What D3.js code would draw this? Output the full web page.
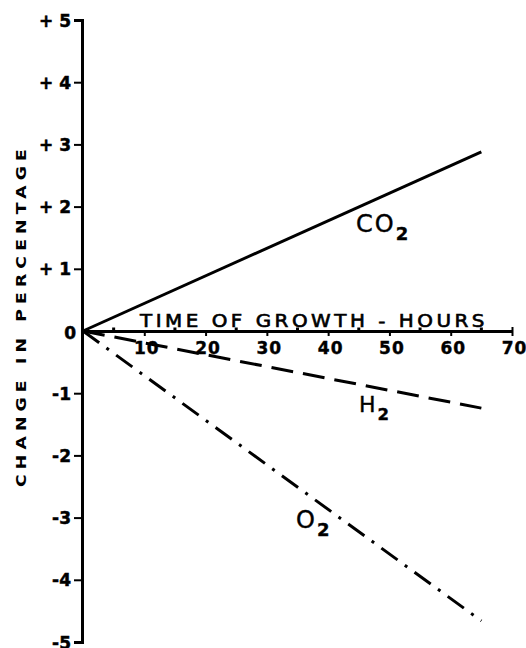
<!DOCTYPE html>
<html>
<head>
<meta charset="utf-8">
<script src="https://cdn.jsdelivr.net/npm/d3@7"></script>
<style>
  html, body { margin: 0; padding: 0; background: #fff; }
  svg { display: block; }
</style>
</head>
<body>
<div id="chart"></div>
<script>
// ---- data ----
const hours = [0, 65];
const co2 = [0, 2.88];
const h2 = [0, -1.24];
const o2 = [0, -4.66];
const xTicks = [10, 20, 30, 40, 50, 60, 70];
const xMinorTicks = [5, 15, 25, 35, 45, 55, 65];
const yTicks = [5, 4, 3, 2, 1, 0, -1, -2, -3, -4, -5];
const yTickLabels = ["+ 5", "+ 4", "+ 3", "+ 2", "+ 1", "0", "-1", "-2", "-3", "-4", "-5"];
const xTitle = "TIME OF GROWTH - HOURS";
const yTitle = "CHANGE IN PERCENTAGE";

const W = 526, H = 648;
const svg = d3.select("#chart").append("svg").attr("width", W).attr("height", H);
svg.append("rect").attr("width", W).attr("height", H).attr("fill", "#fff");

const x = d3.scaleLinear().domain([0, 70]).range([83, 512]);
const y = d3.scaleLinear().domain([-5, 5]).range([642, 20]);

const ink = "#000";
const tickFont = "'DejaVu Sans', sans-serif";

// ---- Y axis ----
const yAxis = d3.axisLeft(y)
  .tickValues(yTicks)
  .tickSize(8)
  .tickSizeOuter(8)
  .tickPadding(3)
  .tickFormat((d, i) => yTickLabels[i]);
const gy = svg.append("g").attr("transform", `translate(${x(0) - 1},0)`).call(yAxis);
gy.select(".domain").attr("stroke", ink).attr("stroke-width", 3);
gy.selectAll(".tick line").attr("stroke", ink).attr("stroke-width", 2);
gy.selectAll(".tick text")
  .attr("fill", ink)
  .attr("stroke", ink).attr("stroke-width", 0.5)
  .style("font-family", tickFont)
  .style("font-weight", "bold")
  .style("font-size", "17px")
  .style("white-space", "pre")
  .attr("dy", "0.36em");
gy.selectAll(".tick").filter(d => d === 0).select("line").remove();
gy.selectAll(".tick").filter(d => d === 0).select("text").attr("x", -6).attr("dy", "0.45em");

// ---- X axis ----
const xAxis = d3.axisBottom(x)
  .tickValues(xTicks)
  .tickSize(5)
  .tickSizeOuter(0)
  .tickPadding(6)
  .tickFormat(d3.format("d"));
const gx = svg.append("g").attr("transform", `translate(0,${y(0)})`).call(xAxis);
gx.select(".domain").attr("stroke", ink).attr("stroke-width", 3);
gx.selectAll(".tick line").attr("stroke", ink).attr("stroke-width", 2);
gx.selectAll(".tick text")
  .attr("fill", ink)
  .attr("stroke", ink).attr("stroke-width", 0.4)
  .style("font-family", tickFont)
  .style("font-weight", "bold")
  .style("font-size", "17px")
  .style("letter-spacing", "1px")
  .attr("dx", "2");
gx.selectAll(".tick").filter(d => d === 70).select("line").attr("y1", -4);
gx.selectAll(".minor").data(xMinorTicks).enter().append("line")
  .attr("class", "minor")
  .attr("x1", d => x(d)).attr("x2", d => x(d))
  .attr("y1", -3.5).attr("y2", 1)
  .attr("stroke", ink).attr("stroke-width", 3);

// ---- titles ----
svg.append("text")
  .attr("x", 140).attr("y", 327)
  .attr("textLength", 348).attr("lengthAdjust", "spacingAndGlyphs")
  .style("font-family", tickFont).style("font-size", "17px")
  .style("letter-spacing", "3px")
  .attr("stroke", ink).attr("stroke-width", 0.6)
  .attr("fill", ink)
  .text(xTitle);

svg.append("text")
  .attr("transform", "translate(25.5,487) rotate(-90)")
  .attr("textLength", 343).attr("lengthAdjust", "spacingAndGlyphs")
  .style("font-family", tickFont).style("font-size", "13.5px").style("font-weight", "bold")
  .style("letter-spacing", "4px")
  .attr("fill", ink)
  .text(yTitle);

// ---- series ----
const line = d3.line().x((d, i) => x(hours[i])).y(d => y(d));
const plot = svg.append("g").attr("fill", "none").attr("stroke", ink).attr("stroke-width", 3);
plot.append("path").datum(co2).attr("d", line);
plot.append("path").datum(h2).attr("d", line).attr("stroke-dasharray", "22,10");
plot.append("path").datum(o2).attr("d", line).attr("stroke-dasharray", "20,9,3,9");

// ---- series labels ----
function gasLabel(xp, yp, base, size) {
  const t = svg.append("text").attr("x", xp).attr("y", yp)
    .style("font-family", tickFont).style("font-size", size + "px")
    .style("letter-spacing", "2px")
    .attr("stroke", ink).attr("stroke-width", 0.4)
    .attr("fill", ink);
  t.append("tspan").text(base);
  t.append("tspan").attr("dy", size * 0.35).style("font-size", (size * 0.75) + "px").style("font-weight", "bold").text("2");
}
gasLabel(356, 232, "CO", 24);
gasLabel(359, 412, "H", 22);
gasLabel(296, 528, "O", 24);
</script>
</body>
</html>
